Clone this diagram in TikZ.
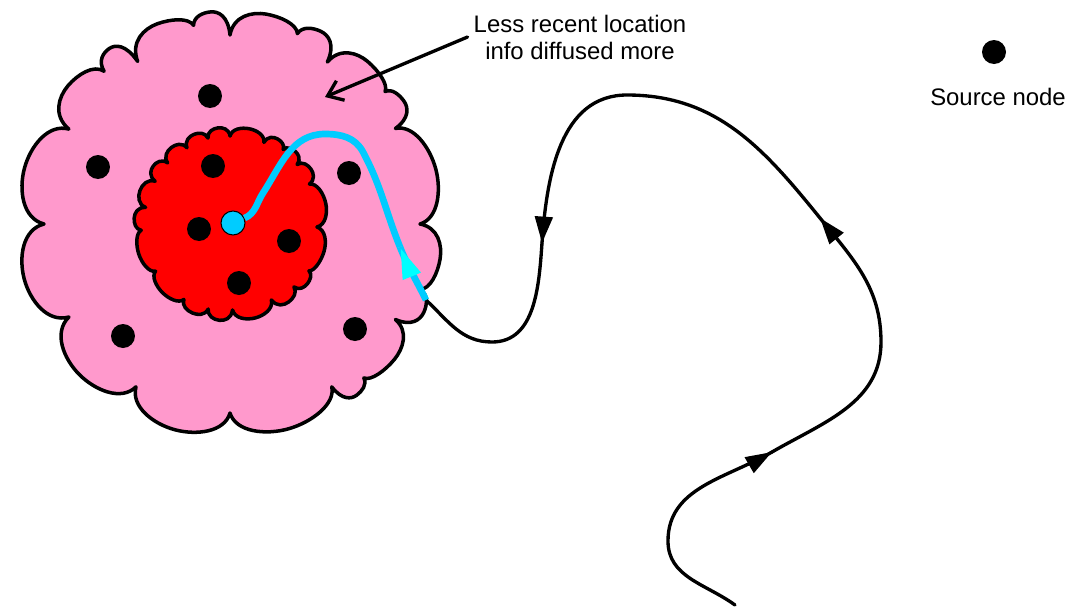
\documentclass[tikz,border=0pt]{standalone}
\usepackage{fontspec}
\setmainfont{Liberation Sans}
\usepackage{tikz}
\usetikzlibrary{arrows.meta,decorations.markings,positioning}
\definecolor{lfPink}{HTML}{FF99CC}
\definecolor{lfRed}{HTML}{FF0000}
\definecolor{lfCyan}{HTML}{00CCFF}
\definecolor{lfAqua}{HTML}{00FFFF}
\tikzset{
  lf diagram/.style={x=0.02cm, y=0.02cm, font={\fontsize{13.6pt}{15.4pt}\selectfont},
    line cap=round, line join=round,
    declare function={tang(\pk,\sp)=\pk/cos(0.2*\sp); rise(\pk,\rr)=\rr+0.8*(\pk-\rr);}},
  lf zone/.style={draw=black, line width=2pt},
  lf old zone/.style={lf zone, fill=lfPink},
  lf new zone/.style={lf zone, fill=lfRed},
  lf dot/.style={circle, fill=black, inner sep=0pt, minimum size=0.48cm},
  lf dest/.style={lf dot, fill=lfCyan, draw=black, line width=0.6pt},
  lf track/.style={draw=black, line width=1.9pt},
  lf step/.style={lf track, postaction={decorate}, decoration={markings,
    mark=at position 0.9999 with {\arrow{Triangle[length=15pt,width=10pt]}}}},
  lf trail/.style={draw=lfCyan, line width=3.8pt, line cap=butt},
  lf trail step/.style={lf trail, postaction={decorate}, decoration={markings,
    mark=at position 0.9999 with {\arrow{Triangle[length=18pt,width=10pt,color=lfAqua]}}}},
  lf pointer/.style={draw=black, line width=1.9pt, -{Straight Barb[length=8pt,width=12pt]}},
  lf label/.style={align=center, text=black}
}
\begin{document}
\begin{tikzpicture}[lf diagram]
\useasboundingbox (0,0) rectangle (1073,-609);
% diffusion zones
\begin{scope}[shift={(230,-224)}]
\draw[lf old zone] (70.5:202)
  \foreach \sa/\sr/\ea/\er in {70.5/202/90/189,90/189/100.4/202,100.4/202/119.6/187,119.6/187/129.5/198,
    129.5/198/149.5/187,149.5/187/180/186,180/186/210/186,210/186/240/188,240/188/270/189,
    270/189/302/192,302/192/311/204,311/204/330/191,330/191/341/201,341/201/360/190,
    360/190/390/191,390/191/400.5/204,400.5/204/419/189,419/189/430.5/202}{
  .. controls ({\sa+0.05*(\ea-\sa)}:{rise(213,\sr)}) and ({(\sa+\ea)/2-0.2*(\ea-\sa)}:{tang(213,\ea-\sa)}) .. ({(\sa+\ea)/2}:213)
  .. controls ({(\sa+\ea)/2+0.2*(\ea-\sa)}:{tang(213,\ea-\sa)}) and ({\ea-0.05*(\ea-\sa)}:{rise(213,\er)}) .. (\ea:\er)
  } -- cycle;
\end{scope}
\begin{scope}[shift={(231,-224)}]
\draw[lf new zone] (68:88)
  \foreach \sa/\sr/\ea/\er in {68/88/90.6/88,90.6/88/105/89,105/89/120/88,120/88/136/88,136/88/150.6/87,
    150.6/87/169/87,169/87/184/90,184/90/212/89,212/89/238/89,238/89/255/88,255/88/271/86,
    271/86/298/86,298/86/315/89,315/89/329/91,329/91/358/86,358/86/387/88,387/88/402/89,
    402/89/415/91,415/91/428/88}{
  .. controls ({\sa+0.05*(\ea-\sa)}:{rise(97,\sr)}) and ({(\sa+\ea)/2-0.2*(\ea-\sa)}:{tang(97,\ea-\sa)}) .. ({(\sa+\ea)/2}:97)
  .. controls ({(\sa+\ea)/2+0.2*(\ea-\sa)}:{tang(97,\ea-\sa)}) and ({\ea-0.05*(\ea-\sa)}:{rise(97,\er)}) .. (\ea:\er)
  } -- cycle;
\end{scope}
% source nodes
\foreach \n/\x/\y in {a/210/96,b/98/167,c/213/166,d/349/173,e/199/229,f/289/241,g/239/283,h/123/336,i/355/329}
  \node[lf dot] (src-\n) at (\x,-\y) {};
% legend and note
\node[lf dot] (keydot) at (994,-52) {};
\node[lf label, below=0.36cm of keydot, xshift=0.08cm] (keylbl) {Source node};
\node[lf label] (note) at (580,-37) {Less recent location\\info diffused more};
\coordinate (aim) at (325,-97);
\draw[lf pointer] (note.west) -- (aim);
% trajectory
\coordinate (w0) at (735,-605);
\coordinate (w1) at (668,-541);
\coordinate (t1) at (772,-452);
\coordinate (w2) at (881,-342);
\coordinate (t2) at (820,-218);
\coordinate (w3) at (627,-95);
\coordinate (t3) at (542,-243);
\coordinate (w4) at (492,-342);
\coordinate (w5) at (426,-300);
\draw[lf step] (w0) to[out=144,in=-90] (w1) to[out=90,in=210] (t1);
\draw[lf step] (t1) to[out=30,in=-90] (w2) to[out=90,in=-51] (t2);
\draw[lf step] (t2) to[out=129,in=0] (w3) to[out=180,in=86] (t3);
\draw[lf track] (t3) to[out=-94,in=0] (w4) to[out=180,in=-43] (w5);
% route back to the destination
\node[lf dest] (dest) at (233,-223) {};
\coordinate (ctip) at (400,-247);
\coordinate (c1) at (363,-152);
\coordinate (c2) at (325,-134);
\coordinate (c3) at (263,-193);
\draw[lf trail step] (w5) to[out=116,in=-68] (ctip);
\draw[lf trail] (ctip) to[out=112,in=-62] (c1) to[out=118,in=0] (c2) to[out=180,in=57] (c3) to[out=237,in=23] (dest);
\end{tikzpicture}
\end{document}
